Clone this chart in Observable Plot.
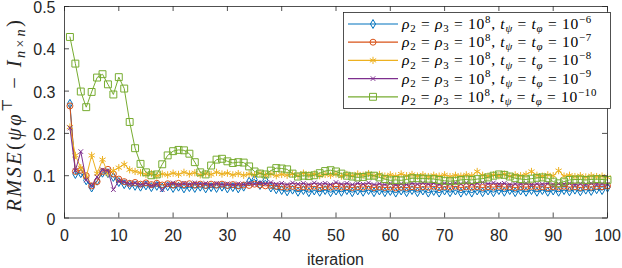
<!DOCTYPE html>
<html><head><meta charset="utf-8">
<script src="https://cdn.jsdelivr.net/npm/d3@7"></script>
<script src="https://cdn.jsdelivr.net/npm/@observablehq/plot@0.6"></script>
<style>body{margin:0;background:#fff} svg{display:block}</style>
</head><body><div id="chart"></div>
<script>
const iterations = d3.range(1, 101);
const xTicks = [0,10,20,30,40,50,60,70,80,90,100];
const yTicks = [0,0.1,0.2,0.3,0.4,0.5];
const yTickLabels = ["0","0.1","0.2","0.3","0.4","0.5"];
const exponents = ["−6","−7","−8","−9","−10"];
const colors = ["#0072BD","#D95319","#EDB120","#7E2F8E","#77AC30"];
const symbols = ["diamond","circle","asterisk","times","square"];
const symbolR = [2.7, 3.0, 3.4, 2.2, 3.9];

const s6 = [0.270,0.104,0.106,0.089,0.072,0.088,0.107,0.106,0.097,0.085,0.080,0.078,0.076,0.074,0.077,0.073,0.076,0.072,0.075,0.071,0.074,0.070,0.073,0.071,0.074,0.070,0.073,0.071,0.074,0.070,0.073,0.070,0.074,0.086,0.091,0.078,0.089,0.072,0.068,0.066,0.063,0.067,0.062,0.066,0.061,0.065,0.062,0.066,0.061,0.065,0.062,0.066,0.061,0.065,0.062,0.066,0.061,0.065,0.061,0.064,0.060,0.065,0.061,0.066,0.061,0.065,0.060,0.064,0.060,0.065,0.061,0.065,0.060,0.064,0.060,0.065,0.061,0.065,0.061,0.066,0.062,0.066,0.061,0.065,0.062,0.066,0.062,0.066,0.062,0.065,0.062,0.066,0.063,0.067,0.063,0.067,0.064,0.068,0.066,0.072];
const s7 = [0.265,0.110,0.113,0.100,0.076,0.086,0.110,0.115,0.104,0.092,0.086,0.082,0.084,0.080,0.083,0.079,0.082,0.078,0.081,0.078,0.082,0.079,0.081,0.078,0.080,0.077,0.080,0.078,0.080,0.077,0.079,0.076,0.078,0.077,0.080,0.078,0.076,0.077,0.075,0.074,0.073,0.075,0.072,0.074,0.073,0.075,0.072,0.074,0.073,0.075,0.073,0.074,0.072,0.074,0.073,0.075,0.072,0.074,0.072,0.073,0.071,0.073,0.072,0.074,0.072,0.074,0.073,0.075,0.072,0.074,0.073,0.075,0.072,0.074,0.073,0.074,0.072,0.074,0.073,0.075,0.073,0.074,0.072,0.074,0.073,0.075,0.073,0.074,0.072,0.074,0.073,0.075,0.073,0.074,0.072,0.074,0.073,0.075,0.074,0.076];
const s8 = [0.215,0.148,0.119,0.097,0.148,0.105,0.138,0.105,0.112,0.119,0.127,0.114,0.110,0.107,0.103,0.105,0.100,0.104,0.102,0.106,0.103,0.108,0.104,0.107,0.102,0.105,0.103,0.108,0.104,0.106,0.102,0.105,0.101,0.104,0.102,0.106,0.101,0.104,0.100,0.103,0.101,0.104,0.100,0.106,0.102,0.104,0.100,0.103,0.101,0.104,0.099,0.103,0.100,0.104,0.101,0.105,0.100,0.103,0.099,0.102,0.099,0.104,0.100,0.103,0.099,0.102,0.098,0.101,0.099,0.102,0.098,0.101,0.099,0.102,0.100,0.110,0.101,0.099,0.102,0.100,0.104,0.099,0.102,0.100,0.103,0.110,0.101,0.099,0.102,0.100,0.112,0.099,0.101,0.098,0.100,0.097,0.100,0.098,0.099,0.096];
const s9 = [0.213,0.112,0.157,0.090,0.076,0.097,0.114,0.112,0.067,0.088,0.085,0.080,0.083,0.078,0.082,0.076,0.080,0.067,0.079,0.083,0.078,0.082,0.079,0.083,0.080,0.082,0.078,0.082,0.079,0.081,0.078,0.081,0.079,0.082,0.080,0.083,0.081,0.084,0.080,0.082,0.079,0.083,0.080,0.082,0.079,0.083,0.080,0.082,0.079,0.084,0.080,0.082,0.079,0.082,0.080,0.083,0.079,0.081,0.079,0.082,0.078,0.081,0.079,0.082,0.080,0.083,0.080,0.082,0.079,0.082,0.080,0.083,0.081,0.083,0.080,0.082,0.084,0.081,0.083,0.080,0.082,0.079,0.081,0.080,0.082,0.079,0.081,0.080,0.082,0.079,0.081,0.080,0.082,0.079,0.081,0.080,0.082,0.080,0.081,0.080];
const s10 = [0.428,0.365,0.299,0.262,0.298,0.332,0.340,0.316,0.292,0.333,0.306,0.227,0.165,0.128,0.108,0.101,0.103,0.127,0.148,0.158,0.161,0.160,0.152,0.132,0.108,0.103,0.124,0.138,0.140,0.134,0.130,0.132,0.131,0.122,0.110,0.105,0.103,0.112,0.118,0.117,0.115,0.105,0.098,0.100,0.099,0.101,0.106,0.111,0.113,0.110,0.105,0.100,0.098,0.096,0.097,0.100,0.100,0.096,0.092,0.089,0.090,0.089,0.091,0.094,0.094,0.093,0.093,0.092,0.090,0.088,0.087,0.088,0.090,0.091,0.090,0.092,0.093,0.096,0.100,0.103,0.102,0.098,0.094,0.092,0.091,0.093,0.095,0.096,0.094,0.086,0.082,0.086,0.090,0.091,0.091,0.090,0.091,0.092,0.091,0.090];
const series = [s6, s7, s8, s9, s10];

const W = 622, H = 268, mL = 64, mR = 15, mT = 6, mB = 50.5;
const pw = W - mL - mR, ph = H - mT - mB;
const axisColor = "#262626";

const seriesMarks = series.flatMap((vals, k) => {
  const data = iterations.map((it, i) => ({x: it, y: vals[i]}));
  return [
    Plot.line(data, {x: "x", y: "y", stroke: colors[k], strokeWidth: 1}),
    Plot.dot(data, {x: "x", y: "y", symbol: () => symbols[k], stroke: colors[k], fill: "none", r: symbolR[k], strokeWidth: 1})
  ];
});

const plot = Plot.plot({
  width: W, height: H,
  marginLeft: mL, marginRight: mR, marginTop: mT, marginBottom: mB,
  x: {domain: [0, 100]},
  y: {domain: [0, 0.5]},
  style: {fontFamily: "'Liberation Sans', Arial, sans-serif", fontSize: "16px", color: axisColor, background: "#fff", overflow: "visible"},
  marks: [
    ...seriesMarks,
    Plot.frame({stroke: axisColor, strokeWidth: 0.8}),
    Plot.ruleX(xTicks, {x: d => d, stroke: axisColor, strokeWidth: 0.8, insetTop: ph - 5}),
    Plot.ruleX(xTicks, {x: d => d, stroke: axisColor, strokeWidth: 0.8, insetBottom: ph - 5}),
    Plot.ruleY(yTicks, {y: d => d, stroke: axisColor, strokeWidth: 0.8, insetRight: pw - 5}),
    Plot.ruleY(yTicks, {y: d => d, stroke: axisColor, strokeWidth: 0.8, insetLeft: pw - 5}),
    Plot.axisX({ticks: xTicks, tickSize: 0, tickPadding: 12, label: null, tickFormat: d => String(d), fill: axisColor}),
    Plot.axisY({ticks: yTicks, tickSize: 0, tickPadding: 9, dy: 1.5, label: null, tickFormat: (d, i) => yTickLabels[i], fill: axisColor})
  ]
});

document.getElementById("chart").appendChild(plot);
const svg = d3.select(plot);

function addRuns(textSel, runs, baseSize) {
  textSel.selectAll("tspan").remove();
  textSel.attr("font-size", baseSize);
  let prev = 0;
  runs.forEach(r => {
    const shift = (r.shift || 0) * baseSize;
    const ts = textSel.append("tspan").text(r.t);
    if (shift !== prev) ts.attr("dy", (shift - prev));
    prev = shift;
    if (r.it) ts.attr("font-style", "italic");
    if (r.small) ts.attr("font-size", baseSize * 0.7);
  });
}
function spaceRuns(textSel, runs, size, target) {
  addRuns(textSel, runs, size);
  const node = textSel.node();
  const len = node.getComputedTextLength();
  const n = node.getNumberOfChars();
  textSel.attr("letter-spacing", (target - len) / n);
}

// x label
svg.append("text").attr("x", mL + pw / 2).attr("y", 265).attr("text-anchor", "middle")
  .attr("font-family", "'Liberation Sans', Arial, sans-serif").attr("font-size", 16).attr("fill", axisColor)
  .text("iteration");

// y label
const yl = svg.append("text")
  .attr("transform", `translate(20.5,${mT + ph / 2 + 3}) rotate(-90)`)
  .attr("text-anchor", "middle")
  .attr("font-family", "'Liberation Serif', 'DejaVu Serif', serif").attr("fill", axisColor);
spaceRuns(yl, [
  {t: "RMSE", it: true}, {t: "("}, {t: "ψφ", it: true},
  {t: "⊤", small: true, shift: -0.4},
  {t: " − "}, {t: "I", it: true},
  {t: "n×n", it: true, small: true, shift: 0.2},
  {t: ")"}
], 20.5, 194);

// legend
const lg = svg.append("g");
lg.append("rect").attr("x", 343.5).attr("y", 12.5).attr("width", 267).attr("height", 96)
  .attr("fill", "#fff").attr("stroke", axisColor).attr("stroke-width", 0.8);
exponents.forEach((e, k) => {
  const cy = 24 + k * 18.2;
  lg.append("line").attr("x1", 348).attr("x2", 398).attr("y1", cy).attr("y2", cy)
    .attr("stroke", colors[k]).attr("stroke-width", 1.2);
  const typ = {diamond: d3.symbolDiamond, circle: d3.symbolCircle, asterisk: d3.symbolAsterisk, times: d3.symbolTimes, square: d3.symbolSquare}[symbols[k]];
  lg.append("path").attr("d", d3.symbol(typ, Math.PI * symbolR[k] * symbolR[k])())
    .attr("transform", `translate(373,${cy})`).attr("fill", "none").attr("stroke", colors[k]).attr("stroke-width", 1);
  const tx = lg.append("text").attr("x", 402).attr("y", cy + 5).attr("text-anchor", "start")
    .attr("font-family", "'Liberation Serif', 'DejaVu Serif', serif").attr("fill", "#000");
  spaceRuns(tx, [
    {t: "ρ", it: true}, {t: "2", small: true, shift: 0.2}, {t: " = "}, {t: "ρ", it: true}, {t: "3", small: true, shift: 0.2},
    {t: " = 10"}, {t: "8", small: true, shift: -0.4}, {t: ", "}, {t: "t", it: true}, {t: "ψ", it: true, small: true, shift: 0.2},
    {t: " = "}, {t: "t", it: true}, {t: "φ", it: true, small: true, shift: 0.2}, {t: " = 10"}, {t: e, small: true, shift: -0.4}
  ], 15.5, k === 4 ? 195 : 190);
});
</script>
</body></html>
